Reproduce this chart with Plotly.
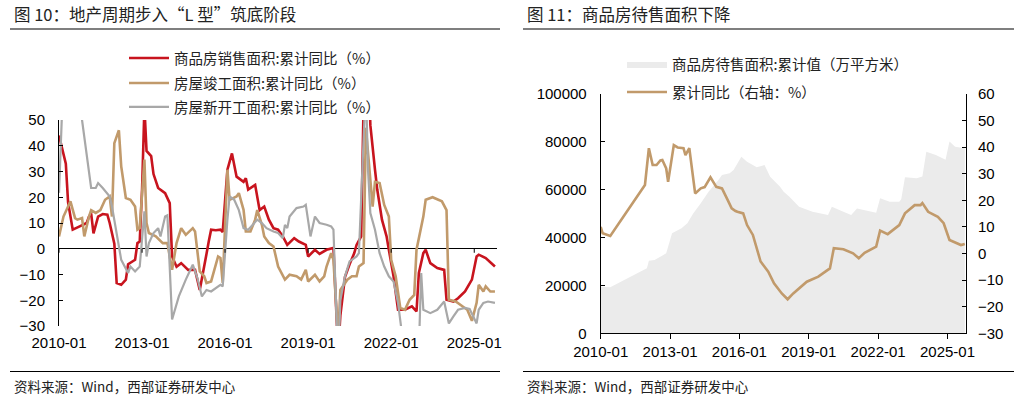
import plotly.graph_objects as go

W, H = 1031, 401
CJK = "Noto Sans CJK SC"
NUM = "Liberation Sans"

# ---- 图10 data (累计同比, %) ----
sales_dates = ["2010-01", "2010-03", "2010-04", "2010-05", "2010-07", "2010-10", "2011-01", "2011-02",
               "2011-03", "2011-04", "2011-06", "2011-08", "2011-10", "2011-11", "2012-01", "2012-02",
               "2012-04", "2012-06", "2012-07", "2012-10", "2012-11", "2012-12", "2013-01", "2013-02",
               "2013-03", "2013-05", "2013-06", "2013-08", "2013-11", "2014-01", "2014-02", "2014-04",
               "2014-06", "2014-09", "2014-12", "2015-02", "2015-03", "2015-04", "2015-05", "2015-06",
               "2015-07", "2015-09", "2015-11", "2015-12", "2016-02", "2016-04", "2016-06", "2016-09",
               "2016-10", "2016-11", "2017-02", "2017-04", "2017-06", "2017-08", "2017-10", "2017-12",
               "2018-02", "2018-04", "2018-07", "2018-09", "2018-12", "2019-01", "2019-04", "2019-06",
               "2019-09", "2019-12", "2020-02", "2020-03", "2020-05", "2020-07", "2020-09", "2020-10",
               "2020-12", "2021-02", "2021-04", "2021-06", "2021-07", "2021-09", "2021-11", "2021-12",
               "2022-02", "2022-04", "2022-07", "2022-10", "2022-12", "2023-01", "2023-03", "2023-04",
               "2023-06", "2023-09", "2023-12", "2024-01", "2024-04", "2024-06", "2024-09", "2024-12",
               "2025-02", "2025-03", "2025-06", "2025-10"]
sales_yoy = [44, 36, 33, 18, 7.4, 8.7, 10, 12.5,
             13.7, 6, 12.5, 13.5, 13.2, 10, 2, -13.3,
             -14, -12, -6, -4.3, 2.2, 2.8, 23, 55,
             38, 36, 29, 23.6, 21.6, 17.7, -3, -7,
             -5.6, -8.2, -8.2, -16, -12, -7, -2, 3,
             7.4, 7.2, 7.4, 6.5, 30.7, 37, 28, 26,
             27.4, 23, 24.8, 15, 16.4, 11.3, 8, 7.4,
             4.8, 1.5, 4.1, 2.8, 1.5, -3, -0.4, -2,
             -0.4, 0.3, -40, -26, -11, -6, -1.7, 1.5,
             4.8, 105, 48, 30.7, 23, 11.3, 4.8, -0.4,
             -10.7, -23.7, -23.7, -22.4, -24.3, -9.4, -1.7, -0.4,
             -5.6, -7.5, -8.2, -19.8, -20.5, -19.2, -16.6, -12,
             -3, -2.3, -3.6, -6.9]

compl_dates = ["2010-01", "2010-03", "2010-05", "2010-06", "2010-08", "2010-09", "2010-11", "2010-12",
               "2011-02", "2011-03", "2011-05", "2011-07", "2011-09", "2011-11", "2011-12", "2012-01",
               "2012-03", "2012-04", "2012-06", "2012-08", "2012-10", "2012-11", "2012-12", "2013-02",
               "2013-03", "2013-04", "2013-07", "2013-10", "2013-12", "2014-02", "2014-04", "2014-06",
               "2014-08", "2014-11", "2014-12", "2015-02", "2015-04", "2015-05", "2015-07", "2015-10",
               "2015-11", "2015-12", "2016-02", "2016-03", "2016-06", "2016-07", "2016-09", "2016-10",
               "2016-12", "2017-02", "2017-03", "2017-05", "2017-06", "2017-08", "2017-10", "2017-12",
               "2018-03", "2018-05", "2018-08", "2018-10", "2018-12", "2019-01", "2019-04", "2019-06",
               "2019-08", "2019-09", "2019-11", "2019-12", "2020-02", "2020-03", "2020-06", "2020-08",
               "2020-10", "2020-11", "2021-01", "2021-02", "2021-05", "2021-06", "2021-08", "2021-10",
               "2021-12", "2022-01", "2022-03", "2022-05", "2022-07", "2022-09", "2022-11", "2022-12",
               "2023-03", "2023-04", "2023-07", "2023-11", "2024-01", "2024-02", "2024-05", "2024-08",
               "2024-10", "2024-12", "2025-02", "2025-03", "2025-05", "2025-06", "2025-08", "2025-10"]
compl_yoy = [4.8, 12.5, 16.4, 18.4, 11.9, 11.3, 11.9, 4.8,
             12.5, 15, 13.9, 15, 19, 20.3, 12.5, 41,
             46, 32, 19.7, 19, 16.4, 7.4, 8, 34.6,
             10, 6.1, 4.8, 2.2, 2.2, -8.2, 2.2, 8,
             5.4, 8, 6.7, -8.8, -10.7, -13.3, -12.7, -3,
             -3.6, -13.3, 30.7, 19, 20.3, 21.6, 15.1, 6.7,
             6.7, 11.3, 15, 9.3, 4.8, 2.2, 0.9, -6.9,
             -12, -10.1, -10.7, -12, -8.2, -12.7, -10.1, -12.7,
             -10.7, -6.9, -1.7, -4.3, -35, -16, -12, -10.7,
             -10.7, -6.9, -5.6, 47, 16.4, 26, 25.5, 17,
             12.5, -4.3, -10.7, -23, -23.7, -19.8, -17.9, -0.4,
             12.5, 19, 20, 18.4, 15, -19.8, -20.5, -22.4,
             -23.7, -28, -21, -14, -16.6, -14.6, -16.6, -16.6]

start_dates = ["2010-01", "2010-03", "2010-06", "2010-09", "2010-11", "2011-01", "2011-03", "2011-05",
               "2011-06", "2011-08", "2011-11", "2011-12", "2012-02", "2012-04", "2012-07", "2012-08",
               "2012-10", "2012-12", "2013-02", "2013-03", "2013-04", "2013-06", "2013-08", "2013-09",
               "2013-11", "2013-12", "2014-02", "2014-05", "2014-08", "2014-11", "2015-01", "2015-03",
               "2015-05", "2015-07", "2015-11", "2015-12", "2016-02", "2016-03", "2016-05", "2016-07",
               "2016-09", "2016-11", "2017-01", "2017-03", "2017-05", "2017-07", "2017-10", "2017-12",
               "2018-02", "2018-03", "2018-04", "2018-05", "2018-08", "2018-11", "2018-12", "2019-02",
               "2019-04", "2019-06", "2019-09", "2019-11", "2019-12", "2020-02", "2020-03", "2020-05",
               "2020-07", "2020-10", "2020-11", "2021-02", "2021-03", "2021-04", "2021-06", "2021-08",
               "2021-10", "2021-12", "2022-02", "2022-04", "2022-06", "2022-12", "2023-01", "2023-02",
               "2023-03", "2023-06", "2023-09", "2023-12", "2024-02", "2024-04", "2024-06", "2024-09",
               "2024-11", "2025-02", "2025-03", "2025-05", "2025-07", "2025-10"]
start_yoy = [21.7, 68, 75, 62, 50, 35.8, 23.6, 23.6,
             25.5, 23.6, 20.3, 16.4, 6.1, -4.3, -9.4, -6.9,
             -8.8, -6.9, 14.5, -3, 2.2, 6.1, 8, 4.8,
             12.5, 13, -27.5, -18.5, -12, -6.2, -11.4, -18.5,
             -16, -16.6, -14, -14.6, 11.3, 20.3, 19, 15,
             8, 7.4, 9.3, 11.3, 10, 8, 6.7, 6.1,
             4.1, 9.3, 8, 12.5, 15.8, 16.4, 17.1, 4.8,
             12.5, 10, 9.3, 8.7, 7.4, -44, -20, -10.7,
             -4.9, -3, -1.7, 64, 30.7, 13.9, 7.4, -1.7,
             -6.9, -10.7, -12.7, -21, -35, -39, -39, -9.4,
             -23.7, -25, -23.7, -20.5, -29, -26.3, -23.7, -23,
             -23.4, -29, -23.7, -21, -20.5, -21]

# ---- 图11 data ----
stock_dates = ["2010-01", "2010-06", "2012-01", "2012-02", "2012-05", "2012-11", "2013-02", "2013-07",
               "2013-10", "2014-01", "2014-05", "2014-09", "2015-02", "2015-04", "2015-08", "2015-10",
               "2016-02", "2016-05", "2016-10", "2017-02", "2017-05", "2017-10", "2017-12", "2018-03",
               "2018-08", "2019-03", "2019-11", "2020-01", "2020-07", "2020-11", "2021-02", "2021-07",
               "2021-12", "2022-02", "2022-07", "2022-12", "2023-01", "2023-03", "2023-09", "2023-12",
               "2024-02", "2024-07", "2024-10", "2024-12", "2025-02", "2025-05", "2025-10"]
stock_area = [19500, 19200, 27200, 30300, 30600, 33400, 41800, 43900,
              46000, 50100, 54300, 59200, 64000, 66100, 66900, 68200,
              73800, 71700, 69400, 70300, 65400, 61300, 59200, 57100,
              52900, 50800, 49400, 52900, 50800, 49400, 52200, 51200,
              50400, 56400, 55000, 55000, 56000, 65200, 64800, 65500,
              75900, 74500, 73100, 72500, 80100, 78000, 77300]

stock_dates_yoy = ["2010-01", "2010-02", "2010-06", "2011-12", "2012-02", "2012-04", "2012-06", "2012-07",
                   "2012-08", "2012-09", "2012-11", "2012-12", "2013-03", "2013-05", "2013-08", "2013-09",
                   "2013-11", "2014-02", "2014-05", "2014-07", "2014-10", "2015-01", "2015-04", "2015-07",
                   "2015-09", "2015-11", "2015-12", "2016-03", "2016-05", "2016-08", "2016-12", "2017-04",
                   "2017-07", "2017-11", "2018-02", "2018-05", "2018-12", "2019-06", "2019-12", "2020-02",
                   "2020-07", "2020-12", "2021-03", "2021-06", "2021-09", "2021-12", "2022-02", "2022-06",
                   "2022-12", "2023-03", "2023-08", "2023-11", "2023-12", "2024-03", "2024-08", "2024-11",
                   "2025-02", "2025-08", "2025-10"]
stock_yoy = [10, 7.6, 6.6, 25.8, 39.6, 33.3, 33.3, 34, 35, 35.2, 32, 27, 40.8, 39.9, 39.6, 37,
             39.6, 22.6, 24.5, 25, 28.7, 25.1, 24.5, 20.1, 17, 16, 15.7, 15.1, 10.7, 7, -3, -6.8,
             -11.2, -15, -17.2, -15, -10.6, -8.7, -5.6, 2, 1.6, 0.1, -1.8, 0.3, 1.6, 2.6, 8.6, 7.3,
             10.7, 15.1, 18.2, 18.2, 19, 15.7, 13.8, 11.4, 5.1, 3.2, 3.6]

tick_dates = ["2010-01-01", "2013-01-01", "2016-01-01", "2019-01-01", "2022-01-01", "2025-01-01"]
tick_text = ["2010-01", "2013-01", "2016-01", "2019-01", "2022-01", "2025-01"]

RED = "#C8141E"
BROWN = "#C19A6B"
GRAY = "#A8A8A8"
AREA = "#EBEBEB"


def px_x(v):
    return v / W


def px_y(v):
    return 1 - v / H


fig = go.Figure()

fig.add_trace(go.Scatter(x=sales_dates, y=sales_yoy, mode="lines", name="商品房销售面积:累计同比（%）",
                         line=dict(color=RED, width=2.6), xaxis="x", yaxis="y", legend="legend"))
fig.add_trace(go.Scatter(x=compl_dates, y=compl_yoy, mode="lines", name="房屋竣工面积:累计同比（%）",
                         line=dict(color=BROWN, width=2.6), xaxis="x", yaxis="y", legend="legend2"))
fig.add_trace(go.Scatter(x=start_dates, y=start_yoy, mode="lines", name="房屋新开工面积:累计同比（%）",
                         line=dict(color=GRAY, width=2.2), xaxis="x", yaxis="y", legend="legend3"))

fig.add_trace(go.Scatter(x=stock_dates, y=stock_area, mode="lines", name="商品房待售面积:累计值（万平方米）",
                         line=dict(width=0, color=AREA), fill="tozeroy", fillcolor=AREA,
                         xaxis="x2", yaxis="y2", legend="legend4"))
fig.add_trace(go.Scatter(x=stock_dates_yoy, y=stock_yoy, mode="lines", name="累计同比（右轴：%）",
                         line=dict(color=BROWN, width=2.6), xaxis="x2", yaxis="y3", legend="legend5"))

tickfont = dict(family=NUM, size=15, color="#000")

# tick marks on the zero line of the left chart
shapes = []
for d in tick_dates:
    shapes.append(dict(type="line", xref="x", yref="y", ysizemode="pixel", yanchor=0,
                       x0=d, x1=d, y0=0, y1=-4, line=dict(color="#000", width=1)))

# rules under titles / above sources
for x0, x1 in [(10, 500), (523, 1014)]:
    for yy in (29, 371.5):
        shapes.append(dict(type="line", xref="paper", yref="paper",
                           x0=px_x(x0), x1=px_x(x1), y0=px_y(yy), y1=px_y(yy),
                           line=dict(color="#000", width=1.2)))

annotations = [
    dict(text="图 10：地产周期步入“L 型”筑底阶段", x=px_x(12), y=px_y(14)),
    dict(text="图 11：商品房待售面积下降", x=px_x(525), y=px_y(14)),
    dict(text="资料来源：Wind，西部证券研发中心", x=px_x(12), y=px_y(386), size=13.5),
    dict(text="资料来源：Wind，西部证券研发中心", x=px_x(525), y=px_y(386), size=13.5),
]
annotations = [dict(text=a["text"], x=a["x"], y=a["y"], xref="paper", yref="paper",
                    xanchor="left", yanchor="middle", showarrow=False,
                    font=dict(family=CJK, size=a.get("size", 16.5), color="#222"))
               for a in annotations]


def leg(xp, yp):
    return dict(x=px_x(xp), y=px_y(yp), xanchor="left", yanchor="middle",
                bgcolor="rgba(0,0,0,0)", borderwidth=0, itemwidth=40,
                font=dict(family=CJK, size=14.5, color="#222"))


fig.update_layout(
    width=W, height=H,
    margin=dict(l=0, r=0, t=0, b=0, autoexpand=False),
    paper_bgcolor="white", plot_bgcolor="rgba(0,0,0,0)",
    showlegend=True,
    legend=leg(124, 58),
    legend2=leg(124, 83),
    legend3=leg(124, 107),
    legend4=leg(622, 64),
    legend5=leg(622, 92),
    xaxis=dict(domain=[px_x(59), px_x(497)], range=["2010-01-01", "2025-10-28"], type="date",
               tickvals=tick_dates, ticktext=tick_text, ticks="", showline=False, showgrid=False,
               zeroline=False, tickfont=tickfont, anchor="y", ticklabelstandoff=6, automargin=False),
    yaxis=dict(domain=[px_y(326), px_y(120)], range=[-30, 50], dtick=10, ticks="inside", ticklen=4,
               tickcolor="#000", showline=True, linecolor="#000", linewidth=1, showgrid=False,
               zeroline=True, zerolinecolor="#000", zerolinewidth=1.2, tickfont=tickfont,
               anchor="x", ticklabelstandoff=10, automargin=False),
    xaxis2=dict(domain=[px_x(600.7), px_x(966)], range=["2010-01-01", "2025-10-20"], type="date",
                tickvals=tick_dates, ticktext=tick_text, ticks="outside", ticklen=5, tickcolor="#000",
                showline=True, linecolor="#000", linewidth=1, showgrid=False, zeroline=False,
                tickfont=tickfont, anchor="y2", automargin=False),
    yaxis2=dict(domain=[px_y(333.3), px_y(94)], range=[0, 100000], dtick=20000, tickformat="d",
                ticks="inside", ticklen=4, tickcolor="#000", showline=True, linecolor="#000",
                linewidth=1, showgrid=False, zeroline=False, tickfont=tickfont, anchor="x2",
                ticklabelstandoff=10, automargin=False),
    yaxis3=dict(range=[-30, 60], dtick=10, overlaying="y2", side="right", anchor="x2",
                ticks="inside", ticklen=4, tickcolor="#000", showline=True, linecolor="#000",
                linewidth=1, showgrid=False, zeroline=False, tickfont=tickfont,
                ticklabelstandoff=8, automargin=False),
    shapes=shapes,
    annotations=annotations,
)

# the page's default body margin would shift the figure by 8px
fig.write_html("out.html", config={"displayModeBar": False},
               post_script="document.body.style.margin='0px';")
